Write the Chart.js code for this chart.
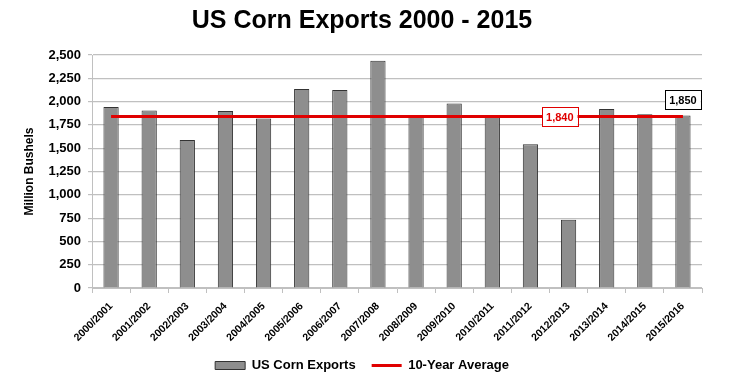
<!DOCTYPE html>
<html>
<head>
<meta charset="utf-8">
<script src="https://cdn.jsdelivr.net/npm/chart.js@4.4.1/dist/chart.umd.min.js"></script>
<style>
    body { margin: 0; background: #ffffff; }
    #wrap { width: 731px; height: 387px; position: relative; }
</style>
</head>
<body>
<div id="wrap"><canvas id="cornChart"></canvas></div>
<script>
// Marketing years
const seasons = [
    '2000/2001', '2001/2002', '2002/2003', '2003/2004', '2004/2005', '2005/2006',
    '2006/2007', '2007/2008', '2008/2009', '2009/2010', '2010/2011', '2011/2012',
    '2012/2013', '2013/2014', '2014/2015', '2015/2016'
];

// US corn exports, million bushels
const exportsMbu = [1941, 1905, 1588, 1900, 1818, 2134, 2125, 2437, 1849, 1980, 1835, 1543, 731, 1920, 1864, 1850];

// 10-year average line
const tenYearAvg = [1840, 1840, 1840, 1840, 1840, 1840, 1840, 1840, 1840, 1840, 1840, 1840, 1840, 1840, 1840, 1840];
const avgLabel = '1,840';
const lastLabel = '1,850';

const yTicks = [0, 250, 500, 750, 1000, 1250, 1500, 1750, 2000, 2250, 2500];

const FONT = "'Liberation Sans', Arial, sans-serif";

// Boxed value labels (average + last bar)
const boxLabels = {
    id: 'boxLabels',
    afterDatasetsDraw(chart) {
        const ctx = chart.ctx;
        const x = chart.scales.x;
        const y = chart.scales.y;

        function box(text, cx, cy, color) {
            ctx.save();
            ctx.font = 'bold 11px ' + FONT;
            const w = ctx.measureText(text).width + 8;
            const h = 19;
            ctx.fillStyle = '#ffffff';
            ctx.fillRect(cx - w / 2, cy - h / 2, w, h);
            ctx.strokeStyle = color;
            ctx.lineWidth = 1;
            ctx.strokeRect(Math.round(cx - w / 2) + 0.5, Math.round(cy - h / 2) + 0.5, Math.round(w), h);
            ctx.fillStyle = color;
            ctx.textAlign = 'center';
            ctx.textBaseline = 'middle';
            ctx.fillText(text, cx, cy + 1);
            ctx.restore();
        }

        // average label sits between 2011/2012 and 2012/2013
        const ax = x.getPixelForValue(11) + 0.77 * (x.getPixelForValue(12) - x.getPixelForValue(11));
        box(avgLabel, ax, y.getPixelForValue(tenYearAvg[11]), '#e00000');

        const last = exportsMbu.length - 1;
        box(lastLabel, x.getPixelForValue(last), y.getPixelForValue(exportsMbu[last]) - 16, '#000000');
    }
};

new Chart(document.getElementById('cornChart'), {
    data: {
        labels: seasons,
        datasets: [
            {
                type: 'line',
                label: '10-Year Average',
                data: tenYearAvg,
                borderColor: '#e00000',
                backgroundColor: '#e00000',
                borderWidth: 3,
                pointRadius: 0,
                pointStyle: 'line',
                order: 0
            },
            {
                type: 'bar',
                label: 'US Corn Exports',
                data: exportsMbu,
                backgroundColor: '#8e8e8e',
                borderColor: '#333333',
                borderWidth: 1,
                barPercentage: 0.8,
                categoryPercentage: 0.5,
                order: 1
            }
        ]
    },
    options: {
        responsive: true,
        maintainAspectRatio: false,
        animation: false,
        layout: { padding: { left: 22, right: 29, top: 0, bottom: 5 } },
        plugins: {
            title: {
                display: true,
                text: 'US Corn Exports 2000 - 2015',
                color: '#000000',
                font: { family: FONT, size: 25, weight: 'bold' },
                padding: { top: 6, bottom: 19 }
            },
            legend: {
                position: 'bottom',
                reverse: true,
                labels: {
                    color: '#000000',
                    font: { family: FONT, size: 13, weight: 'bold' },
                    usePointStyle: true,
                    pointStyleWidth: 30,
                    boxHeight: 8,
                    padding: 16,
                    generateLabels(chart) {
                        const items = Chart.defaults.plugins.legend.labels.generateLabels(chart);
                        items.forEach(it => {
                            if (it.datasetIndex === 0) {
                                it.pointStyle = 'line';
                                it.lineWidth = 3;
                                it.strokeStyle = '#e00000';
                            } else {
                                it.pointStyle = 'rect';
                                it.lineWidth = 1;
                                it.strokeStyle = '#333333';
                                it.fillStyle = '#8e8e8e';
                            }
                        });
                        return items;
                    }
                }
            },
            tooltip: { enabled: false }
        },
        scales: {
            x: {
                grid: {
                    offset: true,
                    drawOnChartArea: false,
                    drawTicks: true,
                    tickLength: 5,
                    color: '#c0c0c0'
                },
                border: { color: '#c0c0c0', width: 1 },
                ticks: {
                    color: '#000000',
                    font: { family: FONT, size: 10.5, weight: 'bold' },
                    minRotation: 45,
                    maxRotation: 45,
                    padding: 7
                },
                afterFit: s => { s.height = 55; }
            },
            y: {
                min: 0,
                max: 2500,
                afterBuildTicks: s => { s.ticks = yTicks.map(v => ({ value: v })); },
                grid: { color: '#c0c0c0', lineWidth: 1.2, tickLength: 4 },
                border: { color: '#c0c0c0', width: 1 },
                ticks: {
                    color: '#000000',
                    font: { family: FONT, size: 13, weight: 'bold' },
                    padding: 7,
                    callback: v => v.toLocaleString('en-US')
                },
                title: {
                    display: true,
                    text: 'Million Bushels',
                    color: '#000000',
                    font: { family: FONT, size: 12, weight: 'bold' },
                    padding: { top: 0, bottom: 4 }
                },
                afterFit: s => { s.width = 70; }
            }
        }
    },
    plugins: [boxLabels]
});
</script>
</body>
</html>
